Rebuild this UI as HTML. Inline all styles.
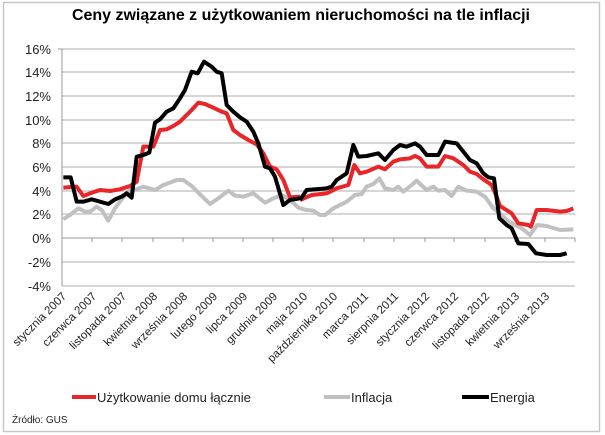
<!DOCTYPE html>
<html><head><meta charset="utf-8"><style>
html,body{margin:0;padding:0;background:#fff;}
svg{display:block;font-family:"Liberation Sans",sans-serif;}
</style></head><body>
<svg width="605" height="435" viewBox="0 0 605 435">
<rect x="3.5" y="2.5" width="596" height="429" fill="#fff" stroke="#c8c8c8" stroke-width="1.5"/>
<text x="301" y="20" text-anchor="middle" font-size="16" font-weight="bold" textLength="458" lengthAdjust="spacingAndGlyphs">Ceny związane z użytkowaniem nieruchomości na tle inflacji</text>
<g stroke="#c8c8c8" stroke-width="1.5">
<line x1="62" y1="49" x2="575" y2="49"/><line x1="62" y1="72" x2="575" y2="72"/><line x1="62" y1="96" x2="575" y2="96"/><line x1="62" y1="120" x2="575" y2="120"/><line x1="62" y1="143" x2="575" y2="143"/><line x1="62" y1="167" x2="575" y2="167"/><line x1="62" y1="191" x2="575" y2="191"/><line x1="62" y1="214" x2="575" y2="214"/><line x1="62" y1="262" x2="575" y2="262"/><line x1="62" y1="286" x2="575" y2="286"/>
</g>
<g stroke="#999" stroke-width="1">
<line x1="62" y1="49" x2="62" y2="286"/><line x1="58" y1="49" x2="62" y2="49"/>
<line x1="62" y1="238" x2="575" y2="238"/>
<line x1="62" y1="238" x2="62" y2="242"/><line x1="92" y1="238" x2="92" y2="242"/><line x1="122" y1="238" x2="122" y2="242"/><line x1="153" y1="238" x2="153" y2="242"/><line x1="183" y1="238" x2="183" y2="242"/><line x1="213" y1="238" x2="213" y2="242"/><line x1="243" y1="238" x2="243" y2="242"/><line x1="273" y1="238" x2="273" y2="242"/><line x1="303" y1="238" x2="303" y2="242"/><line x1="333" y1="238" x2="333" y2="242"/><line x1="364" y1="238" x2="364" y2="242"/><line x1="394" y1="238" x2="394" y2="242"/><line x1="425" y1="238" x2="425" y2="242"/><line x1="454" y1="238" x2="454" y2="242"/><line x1="485" y1="238" x2="485" y2="242"/><line x1="515" y1="238" x2="515" y2="242"/><line x1="545" y1="238" x2="545" y2="242"/><line x1="575" y1="238" x2="575" y2="242"/>
</g>
<g font-size="13" text-anchor="end" fill="#222">
<text x="51" y="54">16%</text><text x="51" y="77">14%</text><text x="51" y="101">12%</text><text x="51" y="125">10%</text><text x="51" y="148">8%</text><text x="51" y="172">6%</text><text x="51" y="196">4%</text><text x="51" y="219">2%</text><text x="51" y="243">0%</text><text x="51" y="267">-2%</text><text x="51" y="291">-4%</text>
</g>
<g font-size="11.5" text-anchor="end" fill="#222">
<text transform="translate(67,297) rotate(-45)">stycznia 2007</text>
<text transform="translate(97,297) rotate(-45)">czerwca 2007</text>
<text transform="translate(127,297) rotate(-45)">listopada 2007</text>
<text transform="translate(158,297) rotate(-45)">kwietnia 2008</text>
<text transform="translate(188,297) rotate(-45)">września 2008</text>
<text transform="translate(218,297) rotate(-45)">lutego 2009</text>
<text transform="translate(248,297) rotate(-45)">lipca 2009</text>
<text transform="translate(278,297) rotate(-45)">grudnia 2009</text>
<text transform="translate(308,297) rotate(-45)">maja 2010</text>
<text transform="translate(338,297) rotate(-45)">października 2010</text>
<text transform="translate(369,297) rotate(-45)">marca 2011</text>
<text transform="translate(399,297) rotate(-45)">sierpnia 2011</text>
<text transform="translate(430,297) rotate(-45)">stycznia 2012</text>
<text transform="translate(459,297) rotate(-45)">czerwca 2012</text>
<text transform="translate(490,297) rotate(-45)">listopada 2012</text>
<text transform="translate(520,297) rotate(-45)">kwietnia 2013</text>
<text transform="translate(550,297) rotate(-45)">września 2013</text>
</g>
<g fill="none" stroke-width="4" stroke-linejoin="round">
<g transform="translate(0,30) scale(0.33333)">
<polyline vector-effect="non-scaling-stroke" stroke="#c0c0c0" points="190,568 210,555 235,535 255,545 270,545 290,530 305,540 325,572 345,535 365,508 390,480 410,478 430,470 465,480 490,465 510,458 530,450 550,450 575,468 600,493 630,522 655,505 685,482 705,497 730,500 760,490 795,518 820,505 845,495 870,510 900,537"/>
<polyline vector-effect="non-scaling-stroke" stroke="#e8262a" points="190,473 230,470 250,498 270,490 300,480 330,483 360,478 390,468 410,455 430,350 460,350 480,300 500,298 520,288 540,275 560,255 575,240 595,218 615,222 640,233 665,245 680,250 700,300 720,315 745,330 770,343 790,370 810,410 830,418 850,450 870,502 900,500"/>
<polyline vector-effect="non-scaling-stroke" stroke="#000" points="190,442 212,442 230,515 250,515 275,508 300,515 325,522 345,508 365,500 380,490 395,503 410,380 430,375 448,368 465,278 480,268 500,245 520,235 540,205 555,180 575,125 593,130 612,95 635,110 650,125 665,130 680,225 700,245 720,262 740,275 760,305 775,340 795,410 810,415 825,440 850,525 870,510 900,505"/>
</g>
<g transform="translate(300,120) scale(0.33333)">
<polyline vector-effect="non-scaling-stroke" stroke="#c0c0c0" points="0,265 20,270 40,272 60,285 75,285 100,265 120,255 140,245 165,225 185,222 200,200 220,192 238,175 255,205 280,210 295,200 310,215 335,195 350,182 380,210 400,200 415,212 435,210 455,228 475,200 500,212 530,215 555,230 580,265 600,280 620,300 645,315 665,325 690,345 712,315 740,318 780,330 820,328"/>
<polyline vector-effect="non-scaling-stroke" stroke="#e8262a" points="0,240 35,225 80,220 95,213 110,205 145,195 163,135 180,160 200,155 235,140 255,148 280,125 300,118 330,115 345,108 360,115 380,140 415,140 435,108 460,115 490,135 510,155 530,162 550,178 575,195 590,230 600,258 635,280 655,310 685,315 693,320 710,270 740,270 780,275 800,273 820,265"/>
<polyline vector-effect="non-scaling-stroke" stroke="#000" points="0,240 20,210 80,205 95,200 110,180 140,160 160,75 175,110 200,108 235,100 255,120 280,90 300,75 320,80 345,70 360,80 380,105 415,105 435,65 470,70 490,95 510,120 530,130 550,160 565,172 582,175 598,295 620,315 635,325 655,370 685,372 708,400 740,405 780,405 800,400"/>
</g>
</g>
<g stroke-width="4">
<line x1="72" y1="397" x2="96" y2="397" stroke="#e8262a"/>
<line x1="324" y1="397" x2="350" y2="397" stroke="#c0c0c0"/>
<line x1="462" y1="397" x2="489" y2="397" stroke="#000"/>
</g>
<g font-size="13" fill="#222">
<text x="97" y="402">Użytkowanie domu łącznie</text>
<text x="351" y="402">Inflacja</text>
<text x="490" y="402">Energia</text>
</g>
<text x="12" y="423" font-size="10" fill="#222">Źródło: GUS</text>
</svg>
</body></html>
